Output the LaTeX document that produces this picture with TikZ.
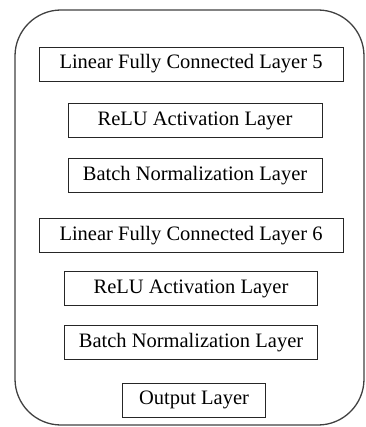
\documentclass[tikz,border=0pt]{standalone}
\usepackage{fontspec}
\setmainfont{Liberation Serif}
\usetikzlibrary{positioning}

\begin{document}
\begin{tikzpicture}[x=1pt, y=1pt,
      every node/.style={font=\fontsize{20.5}{24}\selectfont, align=center},
      layer/.style={draw=black!85, line width=0.9pt, minimum height=34pt, inner sep=0pt}]
    \useasboundingbox (0,0) rectangle (365,-427);
    % outer frame
    \draw[black!75, line width=1.3pt, rounded corners=46pt] (15,-10) rectangle (364,-425);
    \node[layer, minimum width=304pt] (fc5) at (191,-64) {Linear Fully Connected Layer 5};
    \node[layer, minimum width=254pt, below=22pt of fc5, xshift=4pt] (relu5) {ReLU Activation Layer};
    \node[layer, minimum width=254pt, below=20pt of relu5] (bn5) {Batch Normalization Layer};
    \node[layer, minimum width=304pt, below=25pt of bn5, xshift=-4pt] (fc6) {Linear Fully Connected Layer 6};
    \node[layer, minimum width=253pt, below=18pt of fc6] (relu6) {ReLU Activation Layer};
    \node[layer, minimum width=253pt, below=19pt of relu6] (bn6) {Batch Normalization Layer};
    \node[layer, minimum width=143pt, below=23pt of bn6, xshift=3pt] (out) {Output Layer};
  \end{tikzpicture}
\end{document}
